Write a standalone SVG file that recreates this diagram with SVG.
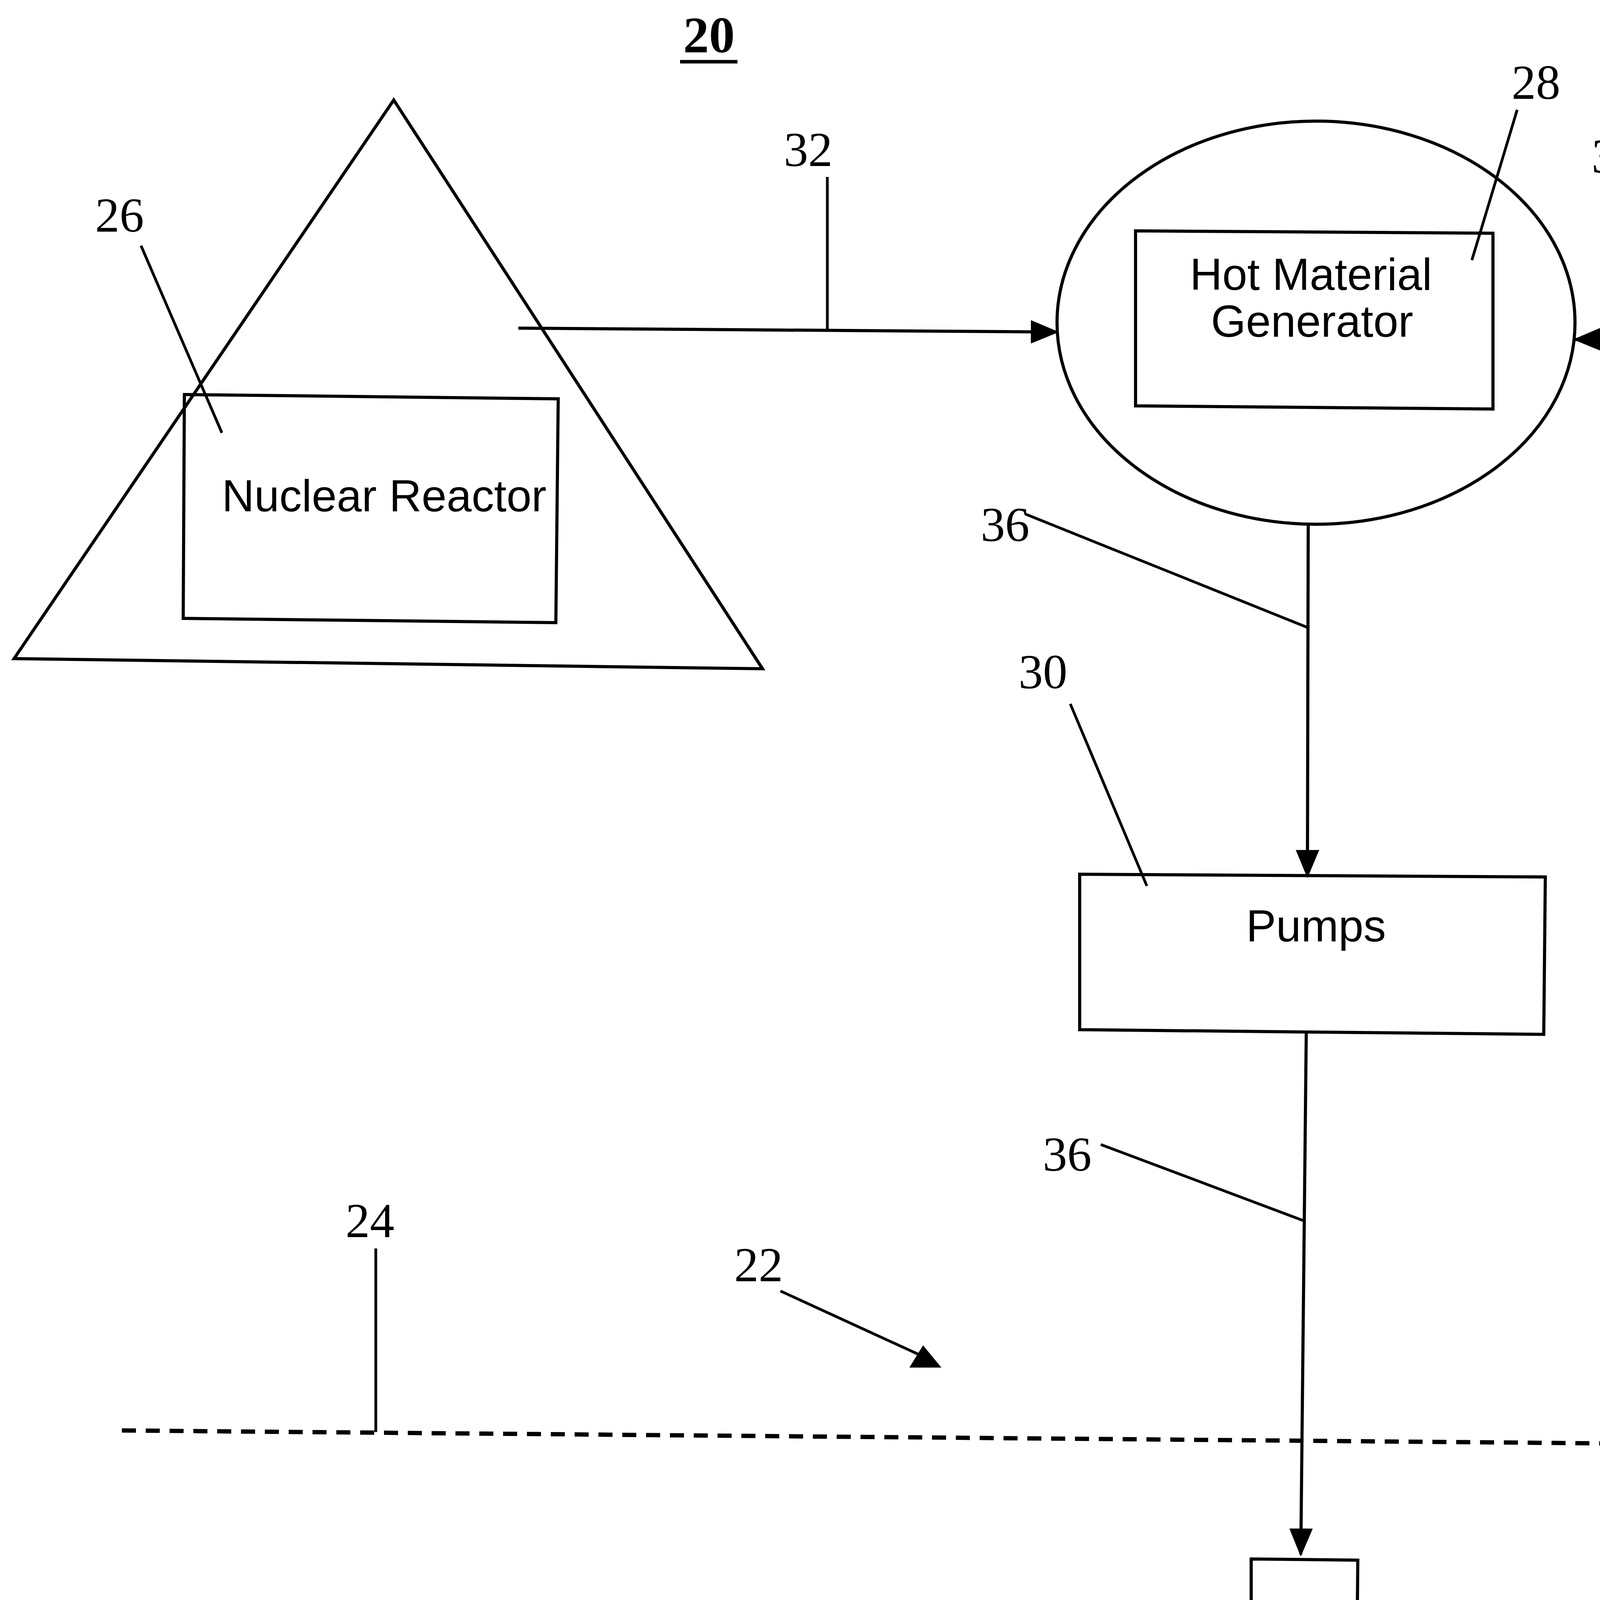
<svg xmlns="http://www.w3.org/2000/svg" width="5253" height="4571" viewBox="0 0 5253 4571">
<style>
.shape{fill:none;stroke:#000;stroke-width:8;stroke-linejoin:miter}
.lead{fill:none;stroke:#000;stroke-width:7}
.conn{fill:none;stroke:#000;stroke-width:8}
.dash{fill:none;stroke:#000;stroke-width:11;stroke-dasharray:36 25}
.box{font-family:"Liberation Sans",Arial,sans-serif;font-size:115px;fill:#000}
.num{font-family:"Liberation Serif","Times New Roman",serif;font-size:125px;fill:#000;text-anchor:middle}
.title{font-family:"Liberation Serif","Times New Roman",serif;font-weight:bold;fill:#000}
</style>
<defs>
<marker id="arr" viewBox="0 0 72 60" refX="66" refY="30" markerWidth="72" markerHeight="60" markerUnits="userSpaceOnUse" orient="auto">
<path d="M0,0 L72,30 L0,60 z" fill="#000"/>
</marker>
</defs>
<rect width="5253" height="4571" fill="#fff"/>

<g id="title20">
<text class="title" x="1815" y="134" font-size="132" text-anchor="middle">20</text>
<line x1="1741" y1="158" x2="1888" y2="158" stroke="#000" stroke-width="9"/>
</g>

<g id="containment">
<polygon class="shape" points="1008,256 1952,1712 36,1686"/>
</g>

<g id="reactor">
<polygon class="shape" points="472,1010 1429,1021 1423,1594 469,1583"/>
<text class="box" x="568" y="1309" font-size="118">Nuclear Reactor</text>
</g>

<g id="generator">
<ellipse class="shape" cx="3369" cy="826" rx="663" ry="516"/>
<polygon class="shape" points="2907,591 3822,597 3822,1047 2907,1039"/>
<text class="box" x="3356" y="742" text-anchor="middle">Hot Material</text>
<text class="box" x="3359" y="862" text-anchor="middle">Generator</text>
</g>

<g id="material">
<path class="shape" d="M5265,614 L4361,603 L4361,1047 L5265,1062"/>
<text class="box" x="4830" y="850" text-anchor="middle">Material</text>
</g>

<g id="pumps">
<polygon class="shape" points="2764,2238 3956,2245 3952,2648 2764,2636"/>
<text class="box" x="3369" y="2410" text-anchor="middle">Pumps</text>
</g>

<g id="well">
<polygon class="shape" points="3203,3991 3476,3994 3472,4415 3203,4411"/>
</g>

<g id="surface">
<line class="dash" x1="312" y1="3662" x2="5253" y2="3705"/>
</g>

<g id="connectors">
<line class="conn" x1="1327" y1="840" x2="2705" y2="850" marker-end="url(#arr)"/>
<line class="conn" x1="4361" y1="867" x2="4033" y2="869" marker-end="url(#arr)"/>
<line class="conn" x1="3349" y1="1343" x2="3347" y2="2242" marker-end="url(#arr)"/>
<line class="conn" x1="3344" y1="2645" x2="3330" y2="3979" marker-end="url(#arr)"/>
</g>

<g id="leaders">
<line class="lead" x1="361" y1="629" x2="568" y2="1108"/>
<line class="lead" x1="2118" y1="453" x2="2118" y2="842"/>
<line class="lead" x1="3884" y1="281" x2="3768" y2="666"/>
<line class="lead" x1="4147" y1="476" x2="4189" y2="867"/>
<line class="lead" x1="4915" y1="289" x2="4811" y2="675"/>
<line class="lead" x1="2625" y1="1316" x2="3349" y2="1607"/>
<line class="lead" x1="2740" y1="1802" x2="2936" y2="2268"/>
<line class="lead" x1="2818" y1="2930" x2="3340" y2="3126"/>
<line class="lead" x1="962" y1="3196" x2="962" y2="3666"/>
<line class="lead" x1="3430" y1="4300" x2="3852" y2="4494"/>
<line class="lead" x1="1998" y1="3305" x2="2362" y2="3472" stroke-width="9"/>
<polygon points="2363,3444 2328,3501 2410,3501" fill="#000"/>
</g>

<g id="labels">
<text class="num" x="306" y="593">26</text>
<text class="num" x="2069" y="425">32</text>
<text class="num" x="3932" y="253">28</text>
<text class="num" x="4137" y="442">35</text>
<text class="num" x="4962" y="258">34</text>
<text class="num" x="2573" y="1385">36</text>
<text class="num" x="2670" y="1762">30</text>
<text class="num" x="2732" y="2997">36</text>
<text class="num" x="947" y="3167">24</text>
<text class="num" x="1942" y="3280">22</text>
<text class="num" x="4001" y="4557">38</text>
<text class="title" x="1663" y="4265" font-size="178">Figure 2</text>
</g>
</svg>
